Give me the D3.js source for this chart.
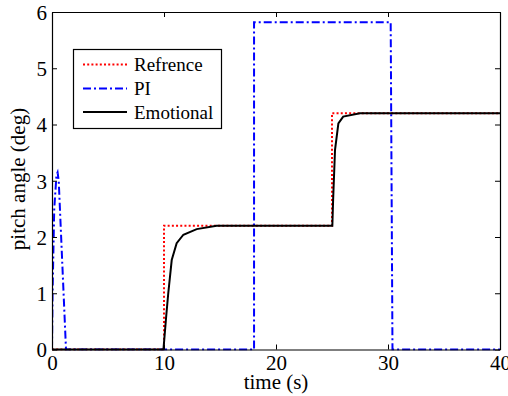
<!DOCTYPE html>
<html>
<head>
<meta charset="utf-8">
<script src="https://cdn.jsdelivr.net/npm/d3@7"></script>
<style>
  body { margin: 0; background: #fff; }
  text { font-family: "Liberation Serif", "Times New Roman", serif; fill: #000; }
</style>
</head>
<body>
<div id="chart"></div>
<script>
// ---- data ----
const refT = [0, 10, 10, 25, 25, 40];
const refV = [0, 0, 2.2, 2.2, 4.2, 4.2];

const piT = [0, 0.05, 0.2, 0.4, 0.5, 0.6, 1.25, 18.04, 18.04, 30.24, 30.4, 40];
const piV = [0, 1.0, 2.5, 3.1, 3.15, 3.0, 0, 0, 5.82, 5.82, 0, 0];

const emoT = [0, 9.95, 10.2, 10.38, 10.69, 11.13, 11.73, 12.92, 14.7, 25.03, 25.1, 25.27, 25.57, 26.0, 27.5, 40];
const emoV = [0, 0, 0.6, 1.0, 1.59, 1.89, 2.04, 2.14, 2.2, 2.2, 2.66, 3.55, 4.02, 4.14, 4.2, 4.2];

const xTicks = [0, 10, 20, 30, 40];
const yTicks = [0, 1, 2, 3, 4, 5, 6];
const legendNames = ["Refrence", "PI", "Emotional"];

// ---- layout ----
const W = 508, H = 396;
const X_LEFT = 52, X_RIGHT = 500, Y_TOP = 12, Y_BOTTOM = 349.5;
const TICK = 5;

const svg = d3.select("#chart").append("svg")
  .attr("width", W).attr("height", H);

const xScale = d3.scaleLinear().domain([0, 40]).range([X_LEFT, X_RIGHT]);
const yScale = d3.scaleLinear().domain([0, 6]).range([Y_BOTTOM, Y_TOP]);

function toPts(ts, vs) { return ts.map((t, i) => ({t: t, v: vs[i]})); }

const line = d3.line().x(d => xScale(d.t)).y(d => yScale(d.v));

const series = [
  {name: legendNames[0], data: toPts(refT, refV), color: "#ff0000", dash: "2,2.2", width: 2},
  {name: legendNames[1], data: toPts(piT, piV), color: "#0000ff", dash: "8,3,2,3", width: 2},
  {name: legendNames[2], data: toPts(emoT, emoV), color: "#000000", dash: null, width: 2}
];

// clip to plotting area
svg.append("clipPath").attr("id", "clip")
  .append("rect")
  .attr("x", X_LEFT).attr("y", Y_TOP - 1)
  .attr("width", X_RIGHT - X_LEFT).attr("height", Y_BOTTOM - Y_TOP + 2);

const plot = svg.append("g").attr("clip-path", "url(#clip)");
series.forEach(s => {
  plot.append("path")
    .datum(s.data)
    .attr("fill", "none")
    .attr("stroke", s.color)
    .attr("stroke-width", s.width)
    .attr("stroke-dasharray", s.dash)
    .attr("d", line);
});

// axes (MATLAB style: ticks inward, box on)
const fmt = d3.format("d");
const xAxisB = d3.axisBottom(xScale).tickValues(xTicks).tickFormat(fmt).tickSizeInner(-TICK).tickSizeOuter(0).tickPadding(6);
const xAxisT = d3.axisTop(xScale).tickValues(xTicks).tickSizeInner(-TICK).tickSizeOuter(0).tickFormat("");
const yAxisL = d3.axisLeft(yScale).tickValues(yTicks).tickFormat(fmt).tickSizeInner(-TICK).tickSizeOuter(0).tickPadding(5);
const yAxisR = d3.axisRight(yScale).tickValues(yTicks).tickSizeInner(-TICK).tickSizeOuter(0).tickFormat("");

svg.append("g").attr("transform", `translate(0,${Y_BOTTOM})`).call(xAxisB);
svg.append("g").attr("transform", `translate(0,${Y_TOP})`).call(xAxisT);
const gy = svg.append("g").attr("transform", `translate(${X_LEFT},0)`).call(yAxisL);
svg.append("g").attr("transform", `translate(${X_RIGHT},0)`).call(yAxisR);

svg.selectAll(".domain").attr("stroke", "#000").attr("stroke-width", 1.2);
svg.selectAll(".tick line").attr("stroke", "#000");
svg.selectAll(".tick text")
  .style("font-family", "Liberation Serif, serif")
  .style("font-size", "21px")
  .attr("fill", "#000");
gy.selectAll(".tick text").attr("dy", "0.35em");

// axis labels
svg.append("text")
  .attr("x", (X_LEFT + X_RIGHT) / 2)
  .attr("y", 389)
  .attr("text-anchor", "middle")
  .style("font-size", "21px")
  .text("time (s)");

svg.append("text")
  .attr("transform", "rotate(-90)")
  .attr("x", -179)
  .attr("y", 25)
  .attr("text-anchor", "middle")
  .style("font-size", "21px")
  .text("pitch angle (deg)");

// legend
const legend = svg.append("g");
legend.append("rect")
  .attr("x", 73.5).attr("y", 49.5)
  .attr("width", 148).attr("height", 79)
  .attr("fill", "#fff").attr("stroke", "#000").attr("stroke-width", 1.2);

const legendY = [64.5, 88.5, 112];
series.forEach((s, i) => {
  legend.append("line")
    .attr("x1", 83).attr("x2", 127)
    .attr("y1", legendY[i]).attr("y2", legendY[i])
    .attr("stroke", s.color)
    .attr("stroke-width", s.width)
    .attr("stroke-dasharray", s.dash);
  legend.append("text")
    .attr("x", 134)
    .attr("y", legendY[i])
    .attr("dy", "0.35em")
    .style("font-size", "19px")
    .text(s.name);
});
</script>
</body>
</html>
